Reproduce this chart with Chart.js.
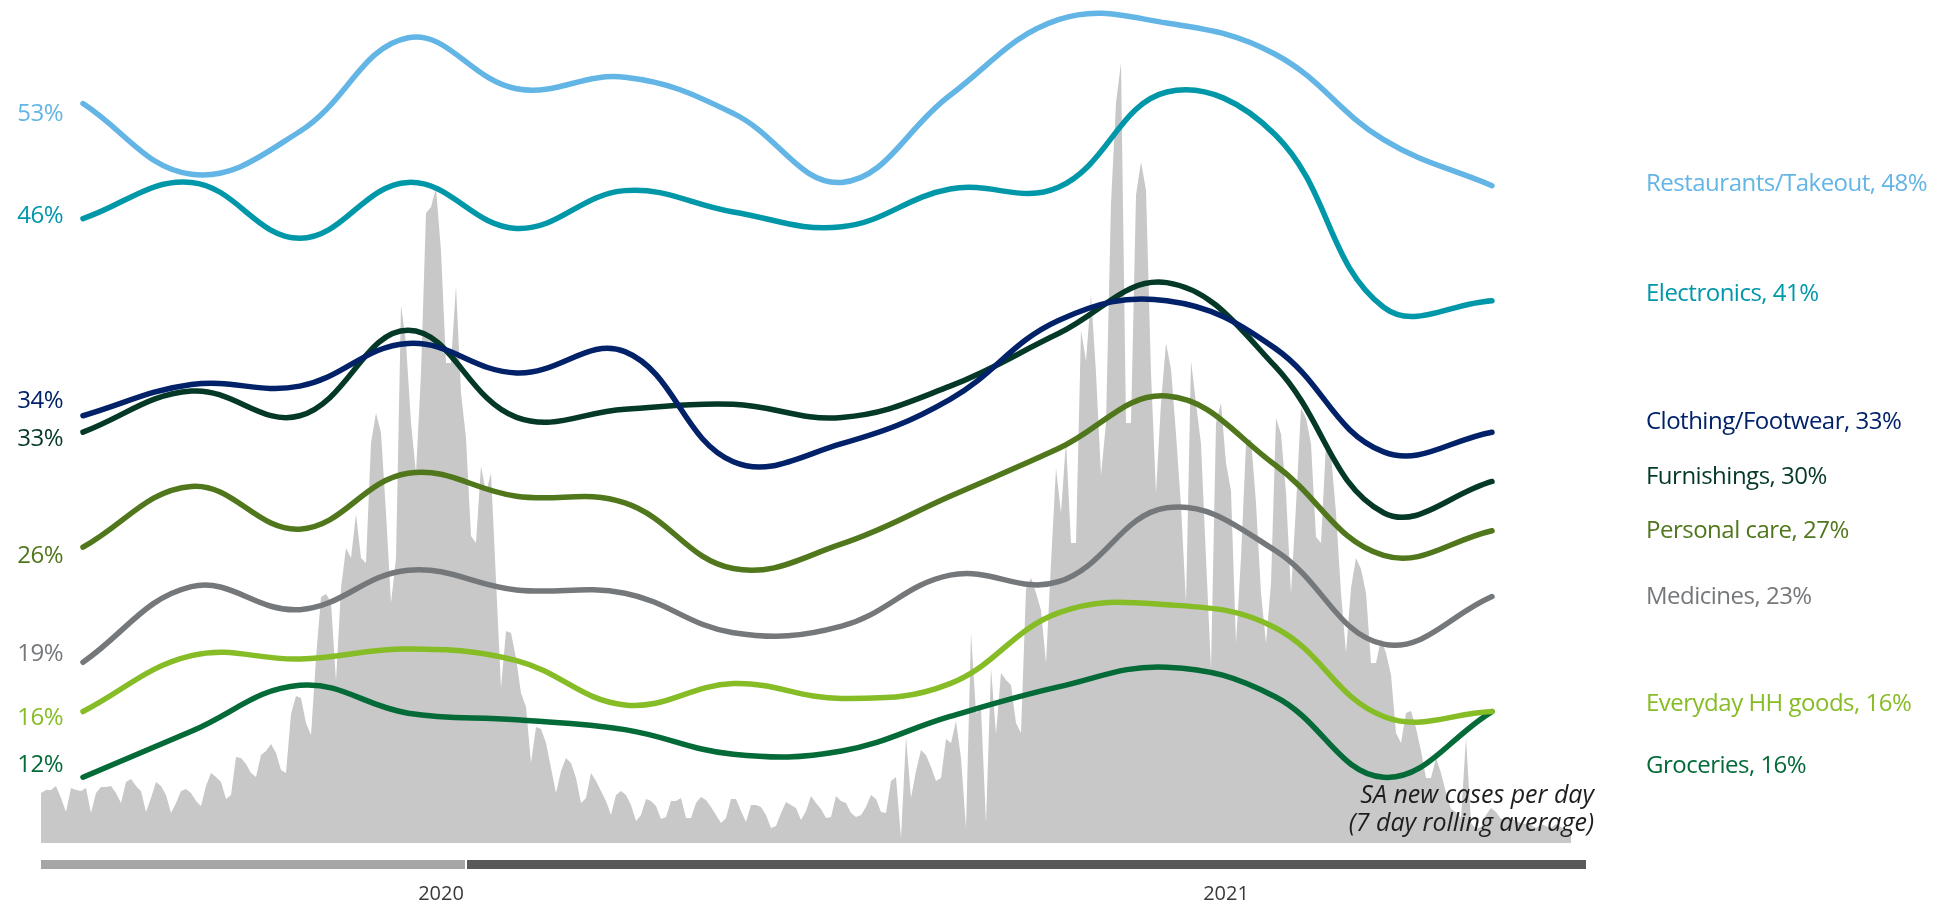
<!DOCTYPE html>
<html>
<head>
<meta charset="utf-8">
<title>Spending intentions vs. SA new cases</title>
<script src="https://cdn.jsdelivr.net/npm/chart.js@4.4.1/dist/chart.umd.min.js"></script>
<style>
  html, body { margin: 0; padding: 0; background: #ffffff; }
  canvas { display: block; }
</style>
</head>
<body>
<canvas id="chart" width="1951" height="904"></canvas>
<script>
// Net spending intention (%) per survey wave, one array per category
const restaurants    = [53, 48.7, 51.3, 57.0, 53.9, 54.6, 52.4, 48.2, 53.5, 58.1, 57.9, 56.0, 50.8, 48];
const electronics    = [46, 48.2, 44.8, 48.2, 45.4, 47.7, 46.4, 45.5, 47.8, 47.9, 53.7, 51.1, 40.6, 41];
const clothing       = [34, 35.9, 35.8, 38.4, 36.6, 37.9, 31.2, 32.3, 35.0, 39.8, 41.0, 38.1, 31.8, 33];
const furnishings    = [33, 35.5, 34.0, 39.2, 33.9, 34.4, 34.7, 33.9, 35.8, 39.0, 42.1, 37.0, 28.1, 30];
const personalCare   = [26, 29.7, 27.1, 30.5, 29.1, 28.7, 24.7, 26.2, 29.1, 32.0, 35.2, 31.0, 25.5, 27];
const medicines      = [19, 23.6, 22.2, 24.6, 23.4, 23.2, 20.8, 21.2, 24.3, 23.9, 28.4, 25.8, 20.1, 23];
const householdGoods = [16, 19.4, 19.2, 19.8, 19.1, 16.4, 17.7, 16.8, 17.7, 22.0, 22.5, 21.1, 15.7, 16];
const groceries      = [12, 14.8, 17.6, 15.9, 15.5, 14.9, 13.4, 13.6, 15.7, 17.5, 18.7, 16.9, 12.0, 16];

const categoryNames  = ['Restaurants/Takeout', 'Electronics', 'Clothing/Footwear', 'Furnishings',
                        'Personal care', 'Medicines', 'Everyday HH goods', 'Groceries'];

// SA new cases per day
const dailyCases = [
  1500, 1590, 1590, 1710, 1350, 930, 1650, 1590, 1560, 1650,
  900, 1500, 1680, 1680, 1710, 1500, 1200, 1830, 1920, 1710,
  1560, 930, 1350, 1830, 1710, 1440, 900, 1200, 1560, 1620,
  1500, 1260, 1110, 1710, 2100, 1980, 1830, 1320, 1440, 2580,
  2550, 2370, 2100, 1980, 2640, 2760, 2970, 2700, 2190, 2100,
  3870, 4410, 4350, 3600, 3240, 5550, 7380, 7470, 7230, 4860,
  7650, 8850, 8550, 9870, 8550, 8400, 12000, 12900, 12300, 9900,
  7200, 8550, 16140, 15000, 12600, 11100, 14100, 18900, 19080, 19650,
  17760, 14400, 14400, 16710, 13500, 12150, 9210, 9000, 11310, 10500,
  11100, 7890, 4650, 6360, 6300, 5550, 4500, 4080, 2400, 3480,
  3420, 3000, 2250, 1500, 2160, 2550, 2400, 1950, 1200, 1350,
  2100, 1860, 1560, 1260, 840, 1440, 1560, 1440, 1140, 660,
  840, 1320, 1260, 1110, 720, 780, 1260, 1260, 1350, 750,
  750, 1200, 1380, 1290, 1080, 840, 600, 750, 1320, 1320,
  960, 630, 1140, 1140, 1080, 840, 450, 510, 900, 1230,
  1140, 1050, 690, 960, 1410, 1200, 1020, 750, 780, 1410,
  1260, 1200, 900, 780, 840, 1080, 1440, 1320, 930, 900,
  1860, 1980, 150, 3180, 1350, 2160, 2790, 2640, 2280, 1860,
  1950, 3120, 3000, 3660, 2550, 450, 6300, 3900, 4050, 600,
  5250, 3270, 5100, 4890, 4740, 3600, 3300, 7620, 7950, 7500,
  6990, 5400, 8400, 11250, 9900, 12060, 9000, 9000, 15390, 14460,
  16440, 14100, 11040, 12600, 19200, 22200, 23400, 12600, 12600, 19440,
  20430, 19590, 14100, 10500, 13200, 15000, 14220, 12270, 10110, 7200,
  14460, 13200, 11970, 8550, 5220, 12600, 13200, 11400, 10560, 6000,
  8550, 11970, 12120, 10200, 7500, 6000, 7800, 12750, 12270, 10500,
  7500, 10110, 13050, 12750, 11970, 9180, 9000, 11970, 11640, 9900,
  7500, 5700, 7650, 8550, 8220, 7500, 5400, 5400, 6120, 5700,
  5040, 3300, 3000, 3900, 3960, 3450, 2760, 1950, 1950, 2550,
  2100, 1500, 1020, 930, 750, 3150, 600, 420, 480, 840,
  1050, 930, 720, 720, 750, 660, 600, 570, 540, 450,
  570, 510, 450, 570, 480, 390, 450
];

// Year bands along the bottom of the timeline (day indices)
const yearLabels = ['2020', '2021'];
const yearStartDay = [0, 85];
const yearEndDay = 309;

const palette = ['#62B5E5', '#0097A9', '#012169', '#043927', '#50771C', '#75787B', '#86BC25', '#046A38'];
const seriesValues = [restaurants, electronics, clothing, furnishings, personalCare, medicines, householdGoods, groceries];

const lineDatasets = seriesValues.map((values, k) => ({
  type: 'line',
  label: categoryNames[k],
  data: values.map((v, i) => ({ x: i, y: v })),
  xAxisID: 'xWave',
  yAxisID: 'yShare',
  borderColor: palette[k],
  borderWidth: 5.5,
  tension: 0.4,
  pointRadius: 0,
  pointHoverRadius: 0,
  borderCapStyle: 'round',
  borderJoinStyle: 'round',
  fill: false,
  order: k
}));

const casesDataset = {
  type: 'line',
  label: 'SA new cases per day',
  data: dailyCases.map((v, i) => ({ x: i, y: v })),
  xAxisID: 'xDay',
  yAxisID: 'yCases',
  backgroundColor: '#C8C8C8',
  borderColor: 'rgba(0,0,0,0)',
  borderWidth: 0,
  pointRadius: 0,
  pointHoverRadius: 0,
  tension: 0,
  fill: 'origin',
  order: 99
};

const FONT = '"Open Sans", "Noto Sans", sans-serif';

// Category labels at both ends of every line, year band and the cases caption
const annotationsPlugin = {
  id: 'annotations',
  afterDatasetsDraw(chart, args, opts) {
    const ctx = chart.ctx;
    const xw = chart.scales.xWave;
    const yp = chart.scales.yShare;
    const xd = chart.scales.xDay;
    const area = chart.chartArea;
    const fs = opts.labelSize;
    const capShift = fs * 0.36;

    ctx.save();
    ctx.font = `${fs}px ${FONT}`;
    ctx.letterSpacing = '-0.5px';
    ctx.textBaseline = 'alphabetic';
    seriesValues.forEach((values, k) => {
      const first = values[0];
      const lastIndex = values.length - 1;
      const last = values[lastIndex];
      ctx.fillStyle = palette[k];
      ctx.textAlign = 'right';
      ctx.fillText(first + '%', xw.getPixelForValue(0) - opts.startGap,
                   yp.getPixelForValue(first) + opts.startNudge[k] + capShift);
      ctx.textAlign = 'left';
      ctx.fillText(`${categoryNames[k]}, ${last}%`, xw.getPixelForValue(lastIndex) + opts.endGap,
                   yp.getPixelForValue(last) + opts.endNudge[k] + capShift);
    });

    // Year band
    const bandTop = area.bottom + opts.bandOffset;
    yearLabels.forEach((label, k) => {
      const from = xd.getPixelForValue(yearStartDay[k]) + (k > 0 ? 1 : 0);
      const toDay = k + 1 < yearStartDay.length ? yearStartDay[k + 1] : yearEndDay;
      const to = xd.getPixelForValue(toDay) - (k + 1 < yearStartDay.length ? 1 : 0);
      ctx.fillStyle = opts.bandColors[k];
      ctx.fillRect(from, bandTop, to - from, opts.bandHeight);
    });
    ctx.font = `${opts.yearSize}px ${FONT}`;
    ctx.letterSpacing = '0px';
    ctx.fillStyle = '#3a3a3a';
    ctx.textAlign = 'center';
    yearLabels.forEach((label, k) => {
      ctx.fillText(label, xd.getPixelForValue(opts.yearLabelDay[k]), area.bottom + opts.yearOffset);
    });

    // Caption for the shaded series
    ctx.font = `italic ${opts.captionSize}px ${FONT}`;
    ctx.letterSpacing = '0px';
    ctx.fillStyle = '#1e1e1e';
    ctx.textAlign = 'right';
    const capX = xd.getPixelForValue(yearEndDay) + 8;
    ctx.fillText('SA new cases per day', capX, area.bottom - 40);
    ctx.fillText('(7 day rolling average)', capX, area.bottom - 12);
    ctx.restore();
  }
};

new Chart(document.getElementById('chart'), {
  type: 'line',
  data: { datasets: [...lineDatasets, casesDataset] },
  options: {
    responsive: false,
    animation: false,
    devicePixelRatio: 1,
    layout: { padding: { left: 41, right: 380, top: 0, bottom: 61 } },
    events: [],
    scales: {
      xWave:  { type: 'linear', min: -0.3875, max: 13.729, display: false },
      xDay:   { type: 'linear', min: 0, max: dailyCases.length - 1, display: false },
      yShare: { type: 'linear', min: 8, max: 59.3, display: false },
      yCases: { type: 'linear', min: 0, max: 25290, display: false }
    },
    plugins: {
      legend: { display: false },
      tooltip: { enabled: false },
      annotations: {
        labelSize: 24,
        startGap: 20,
        endGap: 154,
        startNudge: [9, -4, -16, 5, 7, -10, 5, -14],
        endNudge: [-3, -8, -12, -6.5, -1, -1.6, -9.6, 53],
        bandOffset: 17,
        bandHeight: 9,
        bandColors: ['#A6A6A6', '#595959'],
        yearSize: 20,
        yearOffset: 57,
        yearLabelDay: [80, 237],
        captionSize: 25
      }
    }
  },
  plugins: [annotationsPlugin]
});
</script>
</body>
</html>
